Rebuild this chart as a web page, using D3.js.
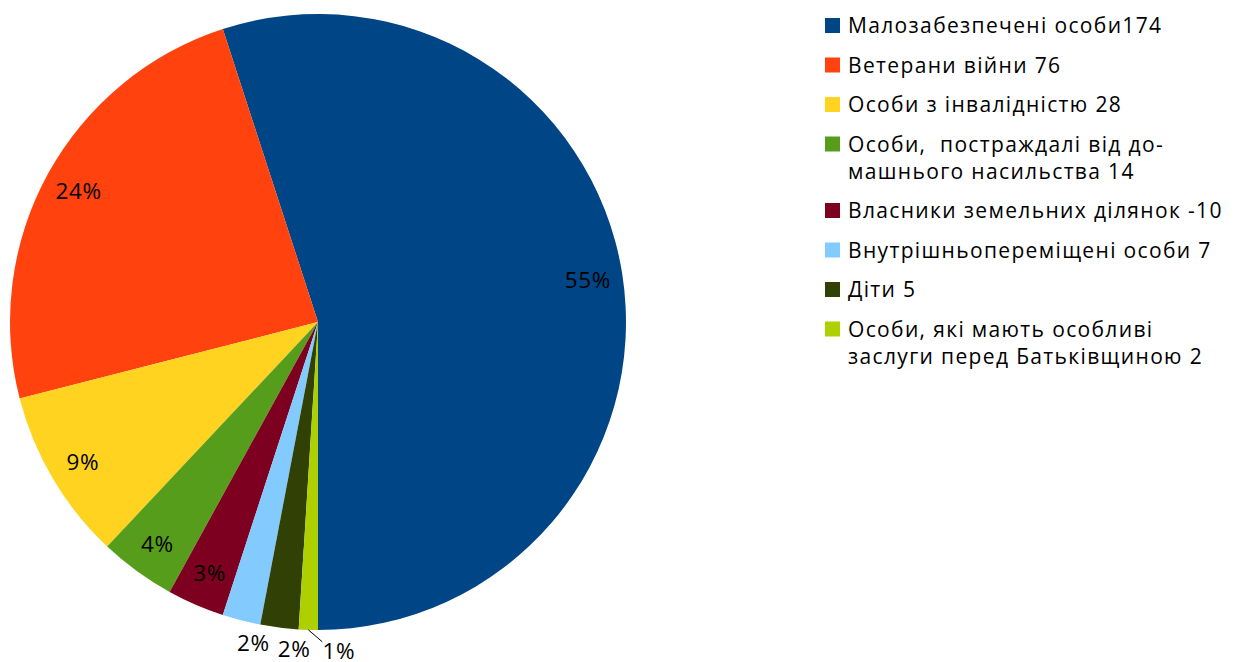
<!DOCTYPE html>
<html>
<head>
<meta charset="utf-8">
<script src="https://cdn.jsdelivr.net/npm/d3@7"></script>
<style>
  body { margin: 0; background: #fff; }
  text { font-family: "Open Sans", Lato, sans-serif; }
</style>
</head>
<body>
<svg id="chart"></svg>
<script>
const categories = [
  ["Малозабезпечені особи174"],
  ["Ветерани війни 76"],
  ["Особи з інвалідністю 28"],
  ["Особи,  постраждалі від до-", "машнього насильства 14"],
  ["Власники земельних ділянок -10"],
  ["Внутрішньопереміщені особи 7"],
  ["Діти 5"],
  ["Особи, які мають особливі", "заслуги перед Батьківщиною 2"]
];
// slice shares as drawn in the source (percent)
const shares = [55, 24, 9, 4, 3, 2, 2, 1];
const colors = ["#004586", "#ff420e", "#ffd320", "#579d1c", "#7e0021", "#83caff", "#314004", "#aecf00"];

const width = 1238;
const height = 662;
const cx = 318, cy = 322, radius = 308;

const svg = d3.select("#chart").attr("width", width).attr("height", height);

// counter-clockwise from 6 o'clock, like the source
const pie = d3.pie().sort(null).startAngle(Math.PI).endAngle(-Math.PI);
const arcs = pie(shares);
const total = d3.sum(shares);

const arc = d3.arc().innerRadius(0).outerRadius(radius);

const g = svg.append("g").attr("transform", `translate(${cx},${cy})`);

g.selectAll("path")
  .data(arcs)
  .enter()
  .append("path")
  .attr("d", arc)
  .attr("fill", (d, i) => colors[i]);

const labelR = radius * 0.887;
const outR = radius + 19;
const deg = Math.PI / 180;

arcs.forEach((d, i) => {
  const pct = Math.round((d.value / total) * 100) + "%";
  const mid = (d.startAngle + d.endAngle) / 2;
  let x, y;
  if (d.value / total > 0.025) {
    x = labelR * Math.sin(mid);
    y = -labelR * Math.cos(mid);
  } else if (i < arcs.length - 1) {
    // outside, nudged toward the bottom
    const a = mid - 3 * deg;
    x = outR * Math.sin(a);
    y = -outR * Math.cos(a);
  } else {
    // tiny slice: pushed right with a leader line
    const ex = radius * Math.sin(mid);
    const ey = -radius * Math.cos(mid);
    g.append("line")
      .attr("x1", ex).attr("y1", ey)
      .attr("x2", ex + 14).attr("y2", ey + 12)
      .attr("stroke", "#000")
      .attr("stroke-width", 1);
    x = ex + 30.5;
    y = ey + 21;
  }
  g.append("text")
    .attr("x", x)
    .attr("y", y)
    .attr("text-anchor", "middle")
    .attr("dominant-baseline", "central")
    .attr("font-size", "22.5px")
    .attr("letter-spacing", "0.6px")
    .attr("fill", "#000")
    .text(pct);
});

// Legend
const legendX = 825;
let baseY = 33;
categories.forEach((lines, i) => {
  svg.append("rect")
    .attr("x", legendX)
    .attr("y", baseY - 15)
    .attr("width", 15)
    .attr("height", 15)
    .attr("fill", colors[i]);
  lines.forEach((ln, j) => {
    svg.append("text")
      .attr("x", legendX + 23)
      .attr("y", baseY + j * 27)
      .attr("font-size", "21px")
      .attr("letter-spacing", "1.35px")
      .attr("fill", "#000")
      .style("white-space", "pre")
      .text(ln);
  });
  baseY += (lines.length - 1) * 27 + 39.5;
});
</script>
</body>
</html>
